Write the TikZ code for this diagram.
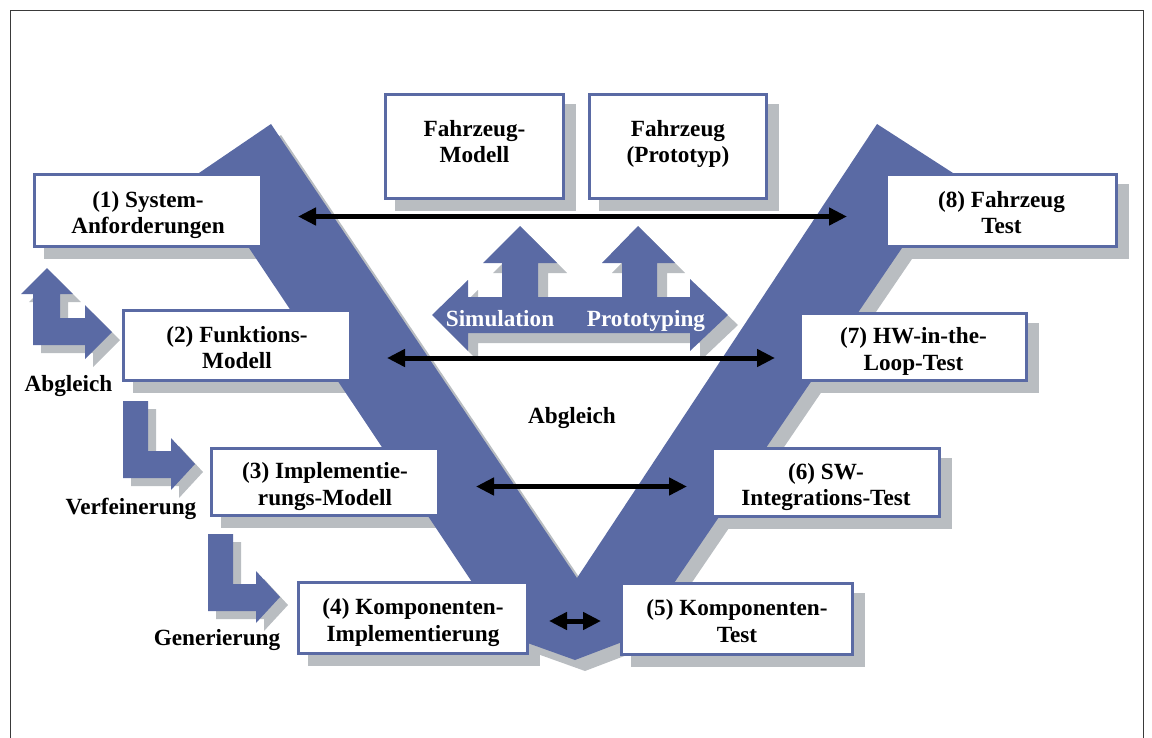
\documentclass[tikz,border=0pt]{standalone}
\usepackage{fontspec}
\setmainfont{Liberation Serif}
\usetikzlibrary{arrows.meta}
\definecolor{vblue}{HTML}{5A6AA4}
\definecolor{shgrey}{HTML}{B9BDC1}
\definecolor{framegrey}{HTML}{3A3A3A}
\pgfdeclarelayer{shade}
\pgfdeclarelayer{band}
\pgfsetlayers{shade,band,main}
% outline of the V
\newcommand\vshape{(199,173) -- (271,124) -- (577,578) -- (877,124) -- (953,173) -- (638,636) -- (575,660) -- (508,636) -- cycle}
% block arrow between Simulation and Prototyping
\newcommand\simshape{(432,315) -- (468,280) -- (468,297) -- (502,297) -- (502,263) -- (483,263) -- (520,226) -- (557,263) -- (538,263) -- (538,297)
  -- (622,297) -- (622,263) -- (602,263) -- (638,226) -- (675,263) -- (657,263) -- (657,297) -- (690,297) -- (690,279) -- (728,315)
  -- (690,351) -- (690,333) -- (468,333) -- (468,351) -- cycle}
\newcommand\upright{(47,268) -- (73,294) -- (60,294) -- (60,318) -- (85,318) -- (85,305) -- (112,332) -- (85,359) -- (85,345) -- (33,345) -- (33,294) -- (21,294) -- cycle}
\newcommand\downright{(123,401) -- (148,401) -- (148,451) -- (171,451) -- (171,438) -- (195,464) -- (171,490) -- (171,478) -- (123,478) -- cycle}

\begin{document}
\begin{tikzpicture}[x=0.5pt,y=-0.5pt,
  boxbase/.style={draw=vblue,line width=1.5pt,fill=white,align=center,inner sep=0pt,font=\bfseries\fontsize{11.6pt}{13.25pt}\selectfont},
  stage/.style={boxbase,minimum width=113.5pt,minimum height=35pt,
    execute at begin node={\rule{0pt}{26.2pt}},execute at end node={\rule[-3pt]{0pt}{3pt}}},
  car/.style={boxbase,minimum width=89pt,minimum height=52pt,
    execute at end node={\rule[-5pt]{0pt}{5pt}}},
  lbl/.style={font=\bfseries\fontsize{11.6pt}{13pt}\selectfont,inner sep=0pt,anchor=base},
  dbl/.style={{Triangle[length=9pt,width=8.5pt]}-{Triangle[length=9pt,width=8.5pt]},line width=2.5pt}
]
  \useasboundingbox (0,0) rectangle (1152,738);
  \draw[framegrey,line width=0.75pt] (10.5,745) -- (10.5,10.5) -- (1143.5,10.5) -- (1143.5,745);

  % left branch
  \node[stage,minimum height=36pt] (s1) at (148,210.5) {(1) System-\\Anforderungen};
  \node[stage] (s2) at (237,345.5) {(2) Funktions-\\Modell};
  \node[stage,minimum height=33.5pt] (s3) at (325,482) {(3) Implementie-\\rungs-Modell};
  \node[stage,minimum width=114.5pt,minimum height=35.5pt] (s4) at (413,618) {(4) Komponenten-\\Implementierung};
  % right branch
  \node[stage,minimum width=115.5pt,minimum height=35.5pt] (s5) at (737,619) {(5) Komponenten-\\Test};
  \node[stage,minimum height=34pt] (s6) at (826,482.5) {(6) SW-\\Integrations-Test};
  \node[stage,minimum width=113pt,minimum height=33.5pt] (s7) at (913.5,347) {(7) HW-in-the-\\Loop-Test};
  \node[stage,minimum width=115pt,minimum height=36pt] (s8) at (1001.5,210.5) {(8) Fahrzeug\\Test};
  \node[car] (fm) at (474.5,146.5) {Fahrzeug-\\Modell};
  \node[car,minimum width=88.5pt] (fp) at (678,146.5) {Fahrzeug\\(Prototyp)};

  \begin{pgfonlayer}{shade}
    \foreach \n in {s1,s2,s3,s4,s5,s6,s7,s8,fm,fp}
      \fill[shgrey] ([shift={(5.5pt,-5.5pt)}]\n.south west) rectangle ([shift={(5.5pt,-5.5pt)}]\n.north east);
    \fill[shgrey,shift={(10,11)}] \vshape;
    \fill[shgrey,shift={(10,10)}] \simshape;
    \fill[shgrey,shift={(8,8)}] \upright;
    \foreach \s in {(8,8),(93,141)}
      \fill[shgrey,shift={\s}] \downright;
  \end{pgfonlayer}
  \begin{pgfonlayer}{band}
    \fill[vblue] \vshape;
    \fill[vblue] \simshape;
    \fill[vblue] \upright;
    \foreach \s in {(0,0),(85,133)}
      \fill[vblue,shift={\s}] \downright;
  \end{pgfonlayer}

  \node[lbl,text=white] (sim) at (500,326) {Simulation};
  \node[lbl,text=white] (proto) at (646,326) {Prototyping};
  \node[lbl] (abg) at (572,423) {Abgleich};
  \node[lbl] (abgl) at (68.5,391) {Abgleich};
  \node[lbl] (verf) at (131,514) {Verfeinerung};
  \node[lbl] (gen) at (217,645) {Generierung};

  \draw[dbl] ([xshift=17.5pt,yshift=-3pt]s1.east) -- ([xshift=-19pt,yshift=-3pt]s8.west);
  \draw[dbl] ([xshift=17.5pt,yshift=-6.25pt]s2.east) -- ([xshift=-12pt,yshift=-5.5pt]s7.west);
  \draw[dbl] ([xshift=18pt,yshift=-2.25pt]s3.east) -- ([xshift=-12pt,yshift=-2pt]s6.west);
  \draw[dbl] ([xshift=10pt,yshift=-1.5pt]s4.east) -- ([xshift=-9.5pt,yshift=-1pt]s5.west);
\end{tikzpicture}
\end{document}
